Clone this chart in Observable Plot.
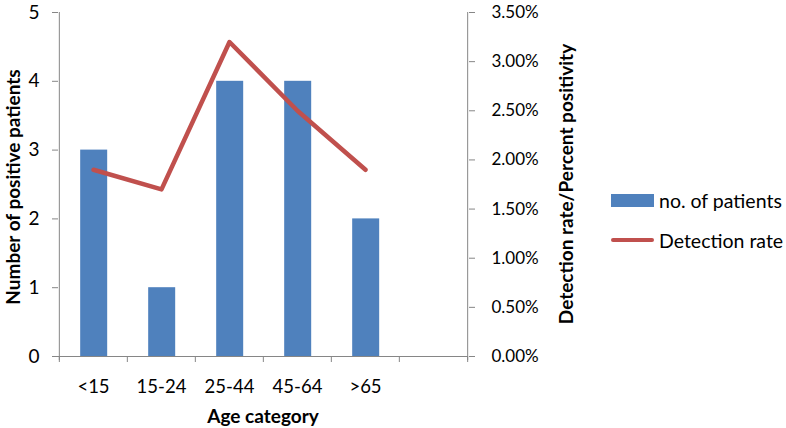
<!DOCTYPE html>
<html>
<head>
<meta charset="utf-8">
<script src="https://cdn.jsdelivr.net/npm/d3@7"></script>
<script src="https://cdn.jsdelivr.net/npm/@observablehq/plot@0.6"></script>
<style>
  html, body { margin: 0; padding: 0; background: #fff; }
  #wrap { position: relative; width: 786px; height: 428px; font-family: Lato, "Open Sans", sans-serif; }
  .leg { position: absolute; left: 611px; font-size: 19.5px; color: #000; display: flex; align-items: center; height: 24px; white-space: nowrap; }
  .sw { display: inline-block; width: 43px; margin-right: 5px; }
</style>
</head>
<body>
<div id="wrap"></div>
<script>
const categories = ["<15", "15-24", "25-44", "45-64", ">65"];
const patients = [3, 1, 4, 4, 2];
const detectionRate = [1.90, 1.70, 3.20, 2.50, 1.90]; // percent
const leftTicks = [0, 1, 2, 3, 4, 5];
const rightTicks = [0, 0.5, 1, 1.5, 2, 2.5, 3, 3.5];
const rightMax = 3.5, leftMax = 5;

const blank = "\u00A0";
const domain = [...categories, blank];
const data = categories.map((c, i) => ({cat: c, n: patients[i], rate: detectionRate[i]}));
const toLeft = p => p / rightMax * leftMax;

const W = 786, H = 428, ml = 58, mr = 318, mt = 12, mb = 72;
const step = (W - ml - mr) / domain.length;
const gray = "#868686";
const font = "Lato, 'Open Sans', sans-serif";

const chart = Plot.plot({
  width: W, height: H,
  marginLeft: ml, marginRight: mr, marginTop: mt, marginBottom: mb,
  style: {fontFamily: font, fontSize: "18px", color: "#000", background: "#fff", overflow: "visible"},
  x: {domain, padding: 0},
  y: {domain: [0, leftMax]},
  marks: [
    Plot.barY(data, {x: "cat", y: "n", fill: "#4F81BD", insetLeft: step * 0.31, insetRight: step * 0.29}),
    Plot.line(data, {x: "cat", y: d => toLeft(d.rate), stroke: "#C0504D", strokeWidth: 4.5, strokeLinejoin: "round", strokeLinecap: "round"}),
    // left axis
    Plot.axisY({anchor: "left", ticks: leftTicks, tickFormat: d => String(d), tickSize: 6, tickPadding: 13, stroke: gray, label: null, fontSize: 19}),
    Plot.ruleX([domain[0]], {x: d => d, dx: -step / 2, stroke: gray, insetBottom: -4}),
    // right axis
    Plot.axisY({anchor: "right", ticks: rightTicks.map(toLeft), tickFormat: v => (v / leftMax * rightMax).toFixed(2) + "%", tickSize: 6, tickPadding: 17, stroke: gray, label: null, fontSize: 17}),
    Plot.ruleX([blank], {x: d => d, dx: step / 2, stroke: gray, insetBottom: -4}),
    // bottom axis
    Plot.ruleY([0], {stroke: gray, insetLeft: -6}),
    Plot.ruleX(domain, {x: d => d, dx: -step / 2, y1: 0, y2: 0, stroke: gray, insetBottom: -6}),
    Plot.ruleX([blank], {x: d => d, dx: step / 2, y1: 0, y2: 0, stroke: gray, insetBottom: -6}),
    Plot.axisX({tickSize: 0, tickPadding: 23, label: null, fontSize: 18.5})
  ]
});
chart.style.position = "absolute";
chart.style.left = "0"; chart.style.top = "0";

const wrap = document.getElementById("wrap");
wrap.appendChild(chart);

// axis titles as SVG text
const ns = "http://www.w3.org/2000/svg";
function addText(str, x, y, rot) {
  const t = document.createElementNS(ns, "text");
  t.textContent = str;
  t.setAttribute("text-anchor", "middle");
  t.setAttribute("font-weight", "bold");
  t.setAttribute("font-size", "19");
  t.setAttribute("font-family", font);
  t.setAttribute("fill", "#000");
  t.setAttribute("transform", `translate(${x},${y}) rotate(${rot})`);
  chart.appendChild(t);
}
addText("Number of positive patients", 20, 187, -90);
addText("Detection rate/Percent positivity", 573, 184, -90);
addText("Age category", (ml + W - mr) / 2, 423, 0);

// legend
const legItems = [
  {label: "no. of patients", sw: '<span class="sw" style="height:13px;background:#4F81BD"></span>', top: 188},
  {label: "Detection rate", sw: '<span class="sw" style="height:4.5px;border-radius:3px;background:#C0504D"></span>', top: 228}
];
for (const it of legItems) {
  const d = document.createElement("div");
  d.className = "leg";
  d.style.top = it.top + "px";
  d.innerHTML = it.sw + "<span>" + it.label + "</span>";
  wrap.appendChild(d);
}
</script>
</body>
</html>
